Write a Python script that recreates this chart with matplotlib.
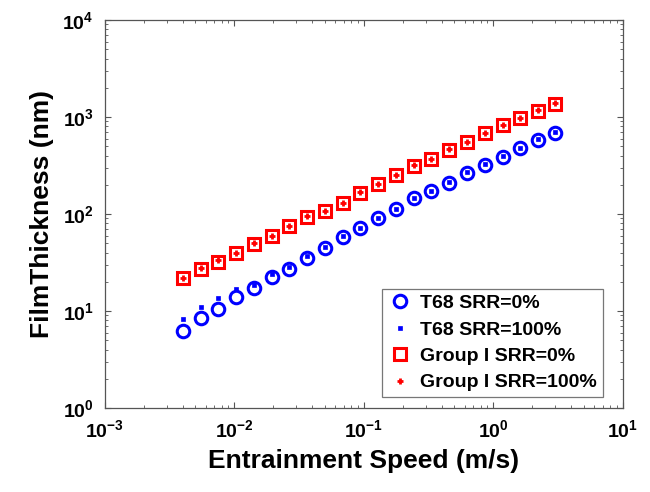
import matplotlib
matplotlib.use('Agg')
import matplotlib.pyplot as plt
from matplotlib.ticker import LogLocator, LogFormatterSciNotation, NullFormatter

plt.rcParams['font.family'] = ['Liberation Sans', 'DejaVu Sans']
plt.rcParams['font.weight'] = 'bold'
plt.rcParams['mathtext.fontset'] = 'custom'
plt.rcParams['mathtext.rm'] = 'Liberation Sans:bold'
plt.rcParams['mathtext.it'] = 'Liberation Sans:bold:italic'
plt.rcParams['mathtext.bf'] = 'Liberation Sans:bold'

# entrainment speed (m/s)
speed = [0.0040, 0.0055, 0.0075, 0.0103, 0.0141, 0.0194, 0.0266, 0.0365,
         0.050, 0.0687, 0.094, 0.129, 0.177, 0.243, 0.333, 0.457,
         0.627, 0.86, 1.18, 1.62, 2.22, 3.0]

# film thickness (nm)
t68_srr0 = [6.2, 8.4, 10.5, 14.0, 17.1, 22.2, 26.9, 35.2, 44.3, 58.3, 71.2,
            90.3, 112.6, 145, 172.6, 210, 263, 320, 390, 475, 579, 684]
t68_srr100 = [8.2, 11.1, 13.7, 17.0, 18.5, 23.8, 28.2, 36.5, 45.5, 59.0, 72.5,
              91.0, 114.0, 146, 174.0, 212, 268, 328, 398, 482, 590, 700]
g1_srr0 = [21.7, 26.9, 32.2, 39.4, 48.7, 59.3, 74.5, 93.8, 107.4, 130.7, 165.8,
           203.8, 252.5, 312.6, 371.5, 456.7, 556.3, 679, 827, 970, 1153, 1352]
g1_srr100 = [21.7, 27.5, 33.2, 39.4, 49.8, 59.3, 76.0, 96.0, 107.4, 130.7, 169.0,
             203.8, 252.5, 318.0, 371.5, 466.0, 556.3, 692, 827, 970, 1175, 1380]

labels = ['T68 SRR=0%', 'T68 SRR=100%', 'Group I SRR=0%', 'Group I SRR=100%']

fig = plt.figure(figsize=(6.5, 4.92), dpi=100)
ax = fig.add_axes([0.1615, 0.1707, 0.7965, 0.7886])

ax.plot(speed, t68_srr0, 'o', color='#0000ff', mfc='none', mew=2.2, ms=9, label=labels[0])
ax.plot(speed, t68_srr100, 's', color='#0000ff', ms=3, mew=0.5, label=labels[1])
ax.plot(speed, g1_srr0, 's', color='#ff0000', mfc='none', mew=2.2, ms=8, label=labels[2])
ax.plot(speed, g1_srr100, '+', color='#ff0000', ms=4.5, mew=2, label=labels[3])

ax.set_xscale('log')
ax.set_yscale('log')
ax.set_xlim(1e-3, 1e1)
ax.set_ylim(1e0, 1e4)

for a in (ax.xaxis, ax.yaxis):
    a.set_major_locator(LogLocator(base=10, numticks=10))
    a.set_minor_locator(LogLocator(base=10, subs=range(2, 10), numticks=10))
    a.set_major_formatter(LogFormatterSciNotation())
    a.set_minor_formatter(NullFormatter())

ax.tick_params(which='both', direction='in', top=True, right=True, color='#555555')
ax.tick_params(which='major', length=4, labelsize=14, pad=8)
ax.tick_params(which='minor', length=2)
for s in ax.spines.values():
    s.set_color('#555555')
    s.set_linewidth(0.9)

ax.set_xlabel('Entrainment Speed (m/s)', fontsize=19, fontweight='bold', labelpad=6)
ax.set_ylabel('FilmThickness (nm)', fontsize=19, fontweight='bold', labelpad=6)

leg = ax.legend(loc='lower right', bbox_to_anchor=(0.961, 0.028), borderaxespad=0,
                prop={'weight': 'bold', 'size': 14}, frameon=True, fancybox=False,
                handlelength=1.2, handletextpad=0.45, labelspacing=0.45, borderpad=0.3)
leg.get_frame().set_edgecolor('#555555')
leg.get_frame().set_linewidth(0.9)

fig.savefig('out.png', dpi=100)
